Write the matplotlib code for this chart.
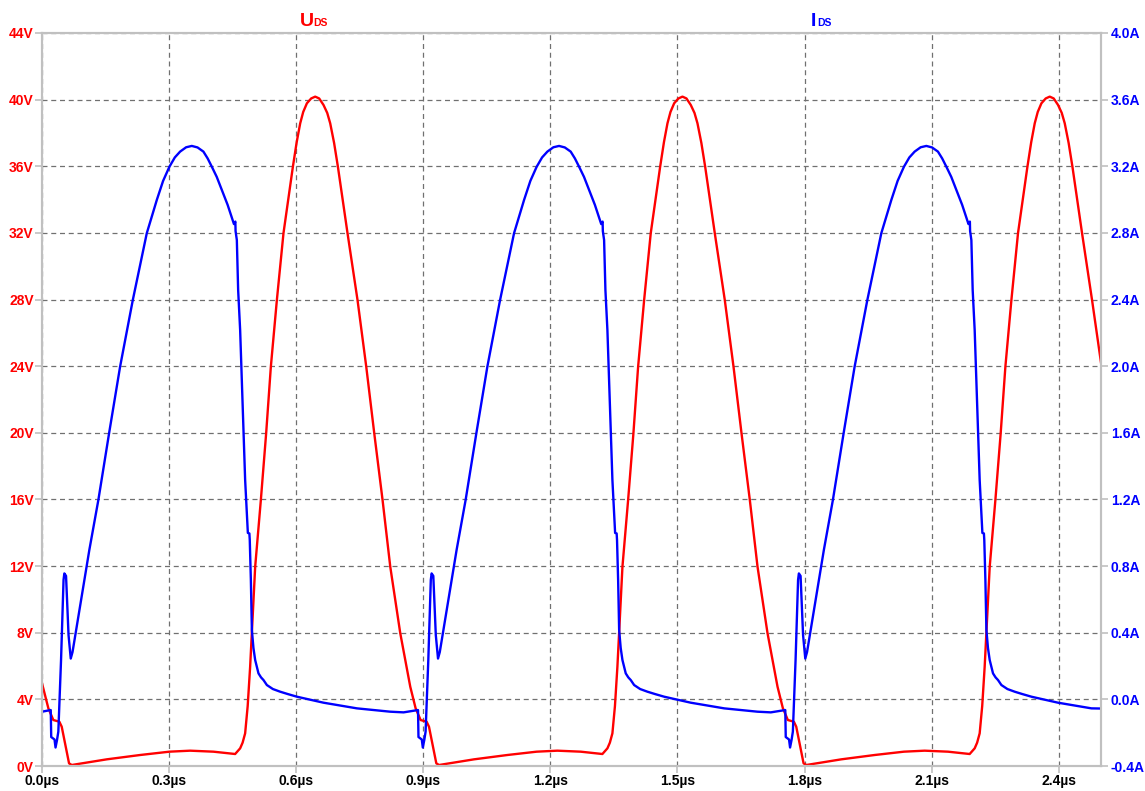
import matplotlib
matplotlib.use('Agg')
import matplotlib.pyplot as plt
import numpy as np

matplotlib.rcParams['font.family'] = ['Liberation Sans', 'DejaVu Sans']

# time in microseconds, values
t_uds = [0.0, 0.0149, 0.0267, 0.0409, 0.0465, 0.0543, 0.0638, 0.0702, 0.1528, 0.2315,
         0.3007, 0.3496, 0.4047, 0.4559, 0.4677, 0.4735, 0.4795, 0.4855, 0.4913, 0.5032,
         0.5166, 0.5291, 0.5402, 0.5544, 0.5700, 0.5922, 0.6012, 0.6095, 0.6166, 0.6253,
         0.6354, 0.6449, 0.6543, 0.6645, 0.6733, 0.6803, 0.6895, 0.6985, 0.7212, 0.7448,
         0.7654, 0.7843, 0.8039, 0.8221, 0.8457, 0.8693,
         0.8819, 0.8937, 0.9079, 0.9135, 0.9213, 0.9308, 0.9372, 1.0198, 1.0985,
         1.1677, 1.2166, 1.2717, 1.3229, 1.3347, 1.3405, 1.3465, 1.3525, 1.3583, 1.3702,
         1.3836, 1.3961, 1.4072, 1.4214, 1.4370, 1.4592, 1.4682, 1.4765, 1.4836, 1.4923,
         1.5024, 1.5119, 1.5213, 1.5315, 1.5403, 1.5473, 1.5565, 1.5655, 1.5882, 1.6118,
         1.6324, 1.6513, 1.6709, 1.6891, 1.7127, 1.7363,
         1.7489, 1.7607, 1.7749, 1.7805, 1.7883, 1.7978, 1.8042, 1.8868, 1.9655,
         2.0347, 2.0836, 2.1387, 2.1899, 2.2017, 2.2075, 2.2135, 2.2195, 2.2253, 2.2372,
         2.2506, 2.2631, 2.2742, 2.2884, 2.3040, 2.3262, 2.3352, 2.3435, 2.3506, 2.3593,
         2.3694, 2.3789, 2.3883, 2.3985, 2.4073, 2.4143, 2.4235, 2.4325, 2.4552, 2.4788,
         2.5]
uds = [4.96, 3.47, 2.76, 2.66, 2.36, 1.36, 0.16, 0.06, 0.40, 0.66,
       0.86, 0.92, 0.86, 0.72, 1.06, 1.40, 1.96, 3.60, 5.96, 11.96,
       15.97, 19.97, 23.97, 27.97, 31.98, 35.97, 37.45, 38.58, 39.26, 39.78,
       40.07, 40.18, 40.07, 39.68, 39.20, 38.58, 37.40, 35.97, 31.98, 27.97,
       23.97, 19.97, 15.97, 11.96, 7.97, 4.76,
       3.47, 2.76, 2.66, 2.36, 1.36, 0.16, 0.06, 0.40, 0.66,
       0.86, 0.92, 0.86, 0.72, 1.06, 1.40, 1.96, 3.60, 5.96, 11.96,
       15.97, 19.97, 23.97, 27.97, 31.98, 35.97, 37.45, 38.58, 39.26, 39.78,
       40.07, 40.18, 40.07, 39.68, 39.20, 38.58, 37.40, 35.97, 31.98, 27.97,
       23.97, 19.97, 15.97, 11.96, 7.97, 4.76,
       3.47, 2.76, 2.66, 2.36, 1.36, 0.16, 0.06, 0.40, 0.66,
       0.86, 0.92, 0.86, 0.72, 1.06, 1.40, 1.96, 3.60, 5.96, 11.96,
       15.97, 19.97, 23.97, 27.97, 31.98, 35.97, 37.45, 38.58, 39.26, 39.78,
       40.07, 40.18, 40.07, 39.68, 39.20, 38.58, 37.40, 35.97, 31.98, 27.97,
       24.2]

t_ids = [0.0, 0.0206, 0.0217, 0.0295, 0.0319, 0.0354, 0.0385, 0.0449, 0.0508, 0.0527,
         0.0567, 0.0626, 0.0678, 0.0720, 0.1117, 0.1330, 0.1583, 0.1843, 0.2143, 0.2473,
         0.2710, 0.2858, 0.3007, 0.3135, 0.3260, 0.3402, 0.3536, 0.3671, 0.3810, 0.3910,
         0.4009, 0.4125, 0.4245, 0.4382, 0.4531, 0.4564, 0.4569, 0.4599, 0.4630, 0.4677,
         0.4741, 0.4795, 0.4859, 0.4895, 0.4904, 0.4930, 0.4954, 0.4991, 0.5032, 0.5110,
         0.5170, 0.5228, 0.5308, 0.5450, 0.5622, 0.5800, 0.6017, 0.6645, 0.7434, 0.8220,
         0.8535,
         0.8876, 0.8887, 0.8965, 0.8989, 0.9024, 0.9055, 0.9119, 0.9178, 0.9197,
         0.9237, 0.9296, 0.9348, 0.9390, 0.9787, 1.0000, 1.0253, 1.0513, 1.0813, 1.1143,
         1.1380, 1.1528, 1.1677, 1.1805, 1.1930, 1.2072, 1.2206, 1.2341, 1.2480, 1.2580,
         1.2679, 1.2795, 1.2915, 1.3052, 1.3201, 1.3234, 1.3239, 1.3269, 1.3300, 1.3347,
         1.3411, 1.3465, 1.3529, 1.3565, 1.3574, 1.3600, 1.3624, 1.3661, 1.3702, 1.3780,
         1.3840, 1.3898, 1.3978, 1.4120, 1.4292, 1.4470, 1.4687, 1.5315, 1.6104, 1.6890,
         1.7205,
         1.7546, 1.7557, 1.7635, 1.7659, 1.7694, 1.7725, 1.7789, 1.7848, 1.7867,
         1.7907, 1.7966, 1.8018, 1.8060, 1.8457, 1.8670, 1.8923, 1.9183, 1.9483, 1.9813,
         2.0050, 2.0198, 2.0347, 2.0475, 2.0600, 2.0742, 2.0876, 2.1011, 2.1150, 2.1250,
         2.1349, 2.1465, 2.1585, 2.1722, 2.1871, 2.1904, 2.1909, 2.1939, 2.1970, 2.2017,
         2.2081, 2.2135, 2.2199, 2.2235, 2.2244, 2.2270, 2.2294, 2.2331, 2.2372, 2.2450,
         2.2510, 2.2568, 2.2648, 2.2790, 2.2962, 2.3140, 2.3357, 2.3985, 2.4774, 2.5]
ids = [-0.074, -0.064, -0.226, -0.241, -0.289, -0.244, -0.194, 0.236, 0.717, 0.756,
       0.741, 0.386, 0.245, 0.284, 0.897, 1.197, 1.597, 1.997, 2.397, 2.798,
       2.998, 3.112, 3.197, 3.253, 3.288, 3.314, 3.322, 3.313, 3.288, 3.247,
       3.197, 3.136, 3.058, 2.968, 2.853, 2.868, 2.811, 2.757, 2.457, 2.217,
       1.719, 1.317, 0.999, 0.996, 0.957, 0.717, 0.416, 0.308, 0.236, 0.156,
       0.132, 0.116, 0.086, 0.062, 0.046, 0.032, 0.016, -0.020, -0.054, -0.074,
       -0.078,
       -0.064, -0.226, -0.241, -0.289, -0.244, -0.194, 0.236, 0.717, 0.756,
       0.741, 0.386, 0.245, 0.284, 0.897, 1.197, 1.597, 1.997, 2.397, 2.798,
       2.998, 3.112, 3.197, 3.253, 3.288, 3.314, 3.322, 3.313, 3.288, 3.247,
       3.197, 3.136, 3.058, 2.968, 2.853, 2.868, 2.811, 2.757, 2.457, 2.217,
       1.719, 1.317, 0.999, 0.996, 0.957, 0.717, 0.416, 0.308, 0.236, 0.156,
       0.132, 0.116, 0.086, 0.062, 0.046, 0.032, 0.016, -0.020, -0.054, -0.074,
       -0.078,
       -0.064, -0.226, -0.241, -0.289, -0.244, -0.194, 0.236, 0.717, 0.756,
       0.741, 0.386, 0.245, 0.284, 0.897, 1.197, 1.597, 1.997, 2.397, 2.798,
       2.998, 3.112, 3.197, 3.253, 3.288, 3.314, 3.322, 3.313, 3.288, 3.247,
       3.197, 3.136, 3.058, 2.968, 2.853, 2.868, 2.811, 2.757, 2.457, 2.217,
       1.719, 1.317, 0.999, 0.996, 0.957, 0.717, 0.416, 0.308, 0.236, 0.156,
       0.132, 0.116, 0.086, 0.062, 0.046, 0.032, 0.016, -0.020, -0.054, -0.055]

x_ticks = [0.0, 0.3, 0.6, 0.9, 1.2, 1.5, 1.8, 2.1, 2.4]
x_labels = ['0.0µs', '0.3µs', '0.6µs', '0.9µs', '1.2µs', '1.5µs', '1.8µs', '2.1µs', '2.4µs']
v_ticks = [0, 4, 8, 12, 16, 20, 24, 28, 32, 36, 40, 44]
v_labels = ['0V', '4V', '8V', '12V', '16V', '20V', '24V', '28V', '32V', '36V', '40V', '44V']
a_ticks = [-0.4, 0.0, 0.4, 0.8, 1.2, 1.6, 2.0, 2.4, 2.8, 3.2, 3.6, 4.0]
a_labels = ['-0.4A', '0.0A', '0.4A', '0.8A', '1.2A', '1.6A', '2.0A', '2.4A', '2.8A', '3.2A', '3.6A', '4.0A']

RED = '#ff0000'
BLUE = '#0000ff'
SPINE = '#c0c0c0'

fig = plt.figure(figsize=(11.45, 7.91), dpi=100)
ax = fig.add_axes([0.0367, 0.0316, 0.9249, 0.9267])
ax2 = ax.twinx()

ax.plot(t_uds, uds, color=RED, linewidth=1.7, solid_joinstyle='round')
ax2.plot(t_ids, ids, color=BLUE, linewidth=1.7, solid_joinstyle='round')

ax.set_xlim(0, 2.5)
ax.set_ylim(0, 44)
ax2.set_ylim(-0.4, 4.0)

ax.set_xticks(x_ticks)
ax.set_xticklabels(x_labels, fontsize=10, fontweight='bold', color='black')
ax.set_yticks(v_ticks)
ax.set_yticklabels(v_labels, fontsize=10, fontweight='bold', color=RED)
ax2.set_yticks(a_ticks)
ax2.set_yticklabels(a_labels, fontsize=10, fontweight='bold', color=BLUE)

ax.grid(True, color='#707070', linestyle=(0, (4, 3)), linewidth=0.9)
ax.tick_params(axis='both', direction='out', length=5, width=1.2, color=SPINE, pad=1)
ax2.tick_params(axis='y', direction='out', length=5, width=1.2, color=SPINE, pad=2)

for a in (ax, ax2):
    for s in a.spines.values():
        s.set_color(SPINE)
        s.set_linewidth(1.5)

# trace names at the top, LTspice style
fig.text(300 / 1145, 1 - 26.5 / 791, 'U', color=RED, fontsize=14, fontweight='bold', va='baseline')
fig.text(313 / 1145, 1 - 26.5 / 791, 'DS', color=RED, fontsize=7.5, fontweight='bold', va='baseline')
fig.text(811 / 1145, 1 - 26.5 / 791, 'I', color=BLUE, fontsize=14, fontweight='bold', va='baseline')
fig.text(817 / 1145, 1 - 26.5 / 791, 'DS', color=BLUE, fontsize=7.5, fontweight='bold', va='baseline')

fig.savefig('out.png', dpi=100)
